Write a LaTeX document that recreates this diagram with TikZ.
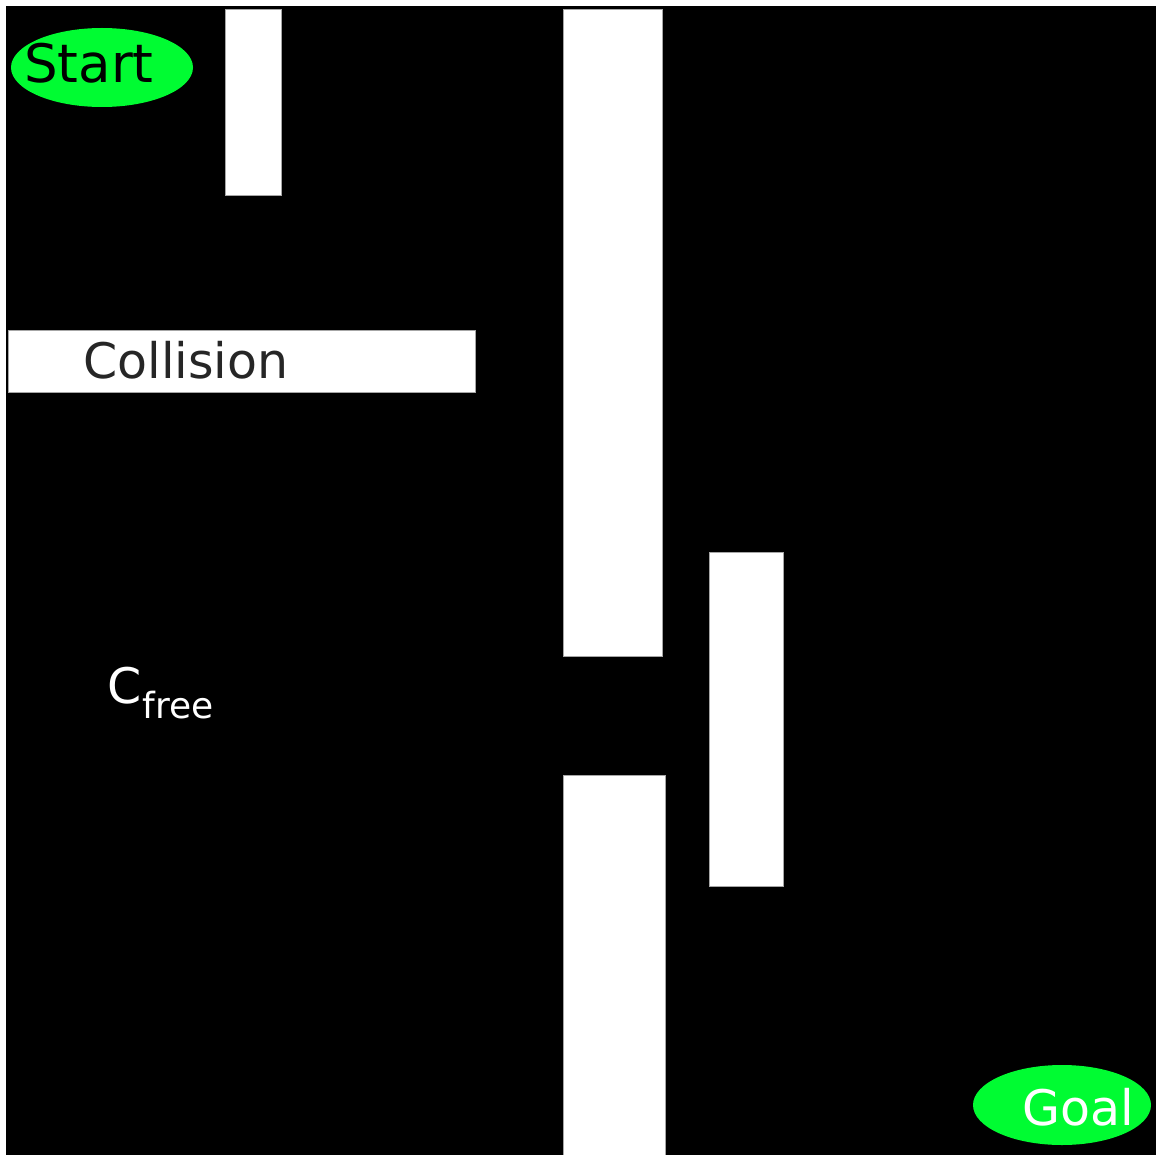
\documentclass[tikz,border=0pt]{standalone}
\usepackage{fontspec}
\setmainfont{DejaVu Sans}
\definecolor{gr}{RGB}{0,252,50}
\begin{document}
\begin{tikzpicture}[x=1pt,y=-1pt,
  obst/.style={fill=white,draw=gray!70,line width=0.8pt},
  goalsh/.style={fill=gr},
  lbl/.style={anchor=base west,inner sep=0pt,font=\fontsize{49}{58}\selectfont}]
\useasboundingbox (0,0) rectangle (1156,1155);
\fill[white] (0,0) rectangle (1156,1155);
\fill[black] (6,6) rectangle (1156,1155);
% obstacles
\draw[obst] (225,9) rectangle (281,195);
\draw[obst] (8,330) rectangle (475,392);
\draw[obst] (563,9) rectangle (662,656);
\draw[obst] (709,552) rectangle (783,886);
\draw[obst] (563,775) rectangle (665,1160);
% start / goal
\fill[goalsh] (102,67.5) ellipse [x radius=91,y radius=39.5];
\fill[goalsh] (1062,1105) ellipse [x radius=89,y radius=40];
\node[lbl,text=black,font=\fontsize{53}{60}\selectfont] (start) at (24,83) {Start};
\node[lbl,text=white] (goal) at (1022,1125) {Goal};
\node[lbl,text=black!85] (coll) at (83,378) {Collision};
\node[lbl,text=white] (cfree) at (107,703) {C\hspace{1pt}\raisebox{-15pt}{\fontsize{36}{40}\selectfont free}};
\end{tikzpicture}
\end{document}
